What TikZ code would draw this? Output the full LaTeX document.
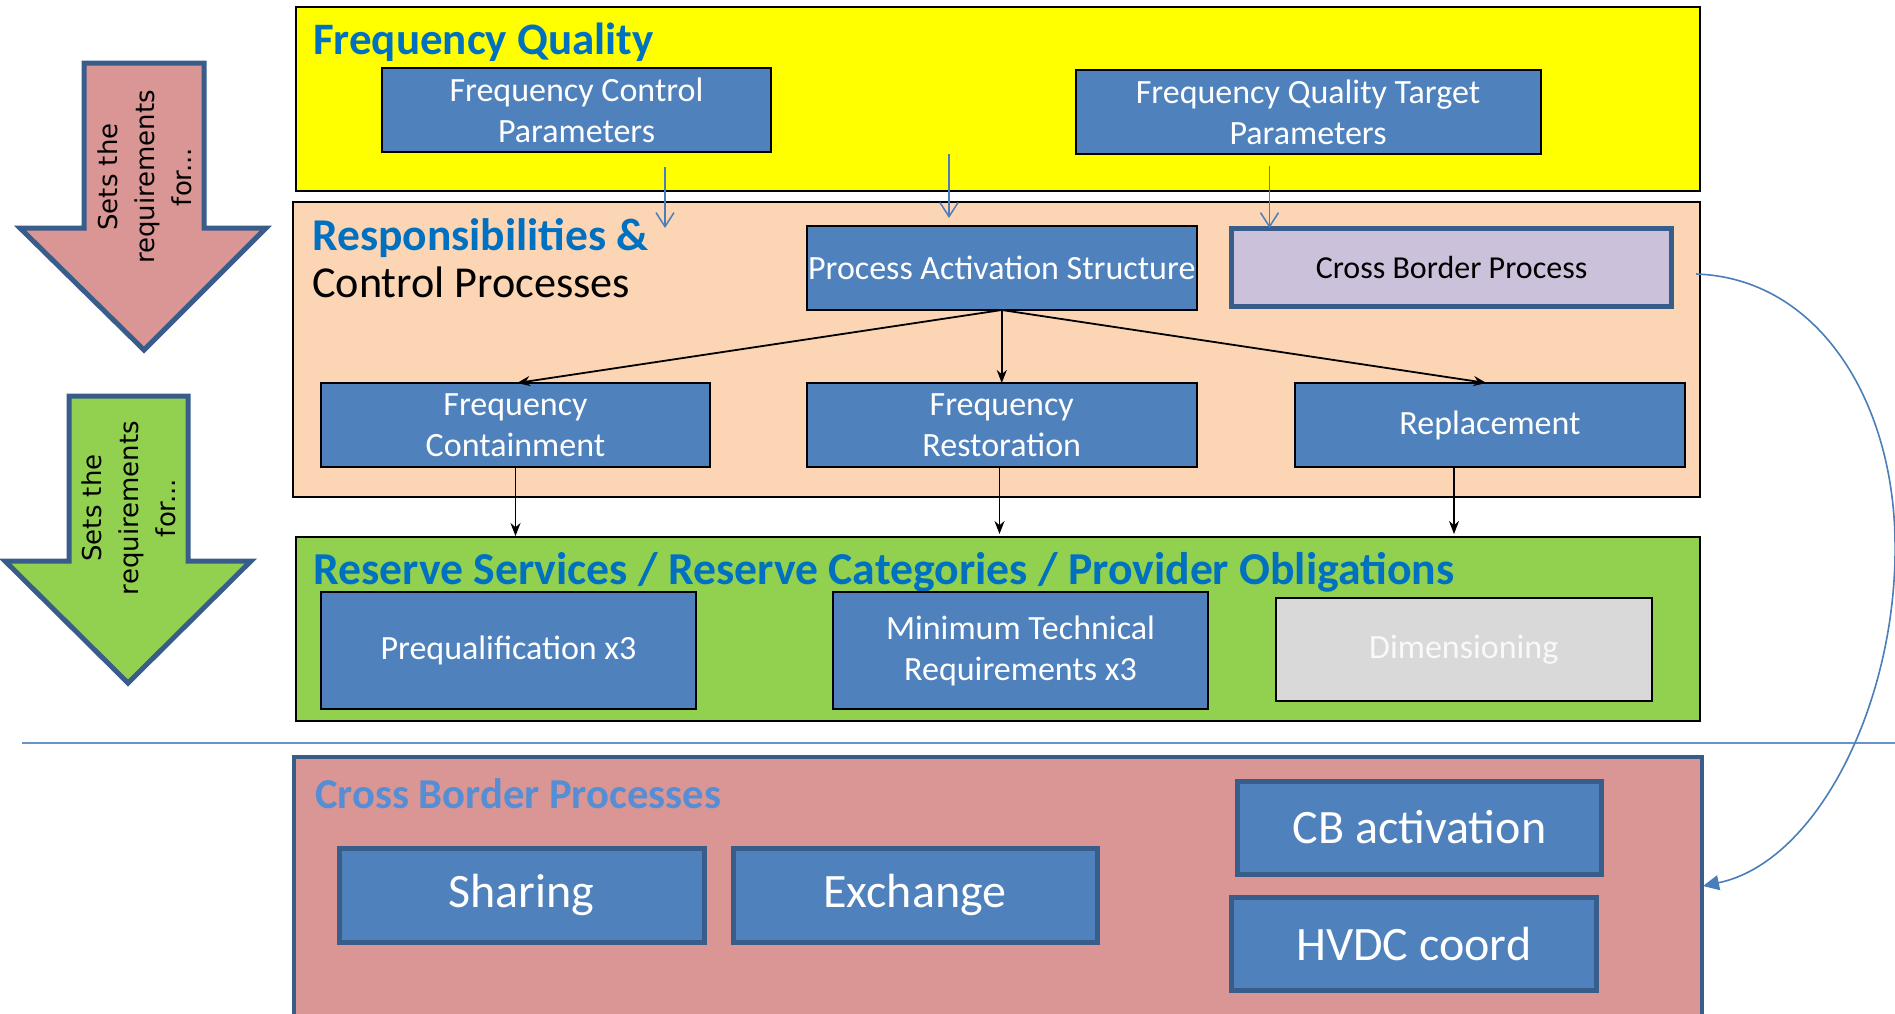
\documentclass[tikz,border=0pt]{standalone}
\usepackage{fontspec}
\setmainfont{Carlito}
\newfontfamily\arrowfont{DejaVu Sans}
\usetikzlibrary{arrows.meta}
\definecolor{yfill}{HTML}{FFFF00}
\definecolor{peach}{HTML}{FCD5B4}
\definecolor{gfill}{HTML}{92D050}
\definecolor{boxblue}{HTML}{4F81BD}
\definecolor{dkblue}{HTML}{385D8A}
\definecolor{lav}{HTML}{CCC1DA}
\definecolor{pinkf}{HTML}{D99694}
\definecolor{grayf}{HTML}{D9D9D9}
\definecolor{tblue}{HTML}{0070C0}
\definecolor{cbtitle}{HTML}{558ED5}
\definecolor{lblue}{HTML}{4A7EBB}
\begin{document}
\begin{tikzpicture}[x=1pt,y=-1pt,
  container/.style={draw=black,line width=2.5,inner sep=0,outer sep=0},
  pbox/.style={draw=black,line width=2,fill=boxblue,text=white,align=center,inner sep=0,outer sep=0,
    font=\fontsize{34}{41}\selectfont},
  cbbox/.style={draw=dkblue,line width=5,fill=boxblue,text=white,align=center,inner sep=0,outer sep=0,
    font=\fontsize{48}{56}\selectfont},
  title/.style={anchor=base west,inner sep=0,text=tblue,font=\fontsize{45}{50}\selectfont\bfseries},
  bluearrow/.style={draw=lblue,line width=1.5,-{Straight Barb[length=14,width=18]}},
  blackarrow/.style={draw=black,line width=1.8,-{Stealth[length=13,width=10]}},
  bigarrow/.style={draw=dkblue,line width=5,line join=miter},
  arrowtext/.style={rotate=90,align=center,inner sep=0,font=\arrowfont\fontsize{26}{37}\selectfont}
]
\clip (0,0) rectangle (1895,1013);

% left arrows
\draw[bigarrow,fill=pinkf] (84,63) -- (204,63) -- (204,228) -- (266,228) -- (144,350) -- (20,228) -- (84,228) -- cycle;
\node[arrowtext] (t1) at (145,177) {Sets the\\requirements\\for...};
\draw[bigarrow,fill=gfill] (69,396) -- (188,396) -- (188,561) -- (251,561) -- (128,683) -- (5,561) -- (69,561) -- cycle;
\node[arrowtext] (t2) at (129,508) {Sets the\\requirements\\for...};

% containers
\node[container,fill=yfill,minimum width=1404,minimum height=184] (fq) at (998,99) {};
\node[container,fill=peach,minimum width=1407,minimum height=295] (rc) at (996.5,349.5) {};
\node[container,fill=gfill,minimum width=1404,minimum height=184] (rs) at (998,629) {};
\node[draw=dkblue,line width=4,fill=pinkf,inner sep=0,minimum width=1407.5,minimum height=300] (cb) at (997.75,907) {};

% titles
\node[title] (fqt) at (313,54.5) {Frequency Quality};
\node[title,font=\fontsize{45.5}{50}\selectfont\bfseries] (rct) at (312,250.5) {Responsibilities \&};
\node[anchor=base west,inner sep=0,font=\fontsize{44.2}{50}\selectfont] (rct2) at (312,297) {Control Processes};
\node[title,font=\fontsize{45.7}{50}\selectfont\bfseries] (rst) at (313,584.5) {Reserve Services / Reserve Categories / Provider Obligations};
\node[title,text=cbtitle,font=\fontsize{42.6}{48}\selectfont\bfseries] (cbt) at (315,808.5) {Cross Border Processes};

% frequency quality boxes
\node[pbox,minimum width=389,minimum height=84] (fcp) at (576.5,110) {Frequency Control\\Parameters};
\node[pbox,minimum width=465,minimum height=84] (fqtp) at (1308,112) {Frequency Quality Target\\Parameters};

% responsibilities boxes
\node[pbox,minimum width=389.5,minimum height=84] (pas) at (1001.75,268) {Process Activation Structure};
\node[pbox,draw=dkblue,line width=5,fill=lav,text=black,font=\fontsize{32}{38}\selectfont,minimum width=440,minimum height=78] (cbp) at (1451.5,267) {Cross Border Process};
\node[pbox,minimum width=389,minimum height=84] (fc) at (515.5,425) {Frequency\\Containment};
\node[pbox,minimum width=389.5,minimum height=84] (fr) at (1001.75,425) {Frequency\\Restoration};
\node[pbox,minimum width=389.4,minimum height=84] (rp) at (1490,425) {Replacement};

% reserve boxes
\node[pbox,minimum width=375,minimum height=117] (pq) at (508.5,650.5) {Prequalification x3};
\node[pbox,minimum width=375,minimum height=117] (mtr) at (1020.5,650.5) {Minimum Technical\\Requirements x3};
\node[pbox,fill=grayf,text=white!95!gray,minimum width=375.5,minimum height=103] (dim) at (1463.75,649.5) {Dimensioning};

% cross border boxes
\node[cbbox,minimum width=365,minimum height=94] (sh) at (521.5,895) {Sharing};
\node[cbbox,minimum width=364,minimum height=94] (ex) at (915,895) {Exchange};
\node[cbbox,minimum width=364,minimum height=93] (cba) at (1419.5,827.5) {CB activation};
\node[cbbox,minimum width=364.5,minimum height=93] (hv) at (1413.75,943.5) {HVDC coord};

% blue arrows from frequency quality
\coordinate (b1s) at (665,167); \coordinate (b1e) at (665,228);
\coordinate (b2s) at (949,154); \coordinate (b2e) at (949,218);
\coordinate (b3s) at (1269.5,166); \coordinate (b3e) at (1269.5,228);
\draw[bluearrow] (b1s) -- (b1e);
\draw[bluearrow] (b2s) -- (b2e);
\draw[bluearrow] (b3s) -- (b3e);

% black arrows
\coordinate (fcin) at (517,383);
\coordinate (rpin) at (1486.5,383);
\draw[blackarrow] (pas.south) -- (fcin);
\draw[blackarrow] (pas.south) -- (fr.north);
\draw[blackarrow] (pas.south) -- (rpin);
\coordinate (fcout) at (515.5,467); \coordinate (fcend) at (515.5,536);
\coordinate (frout) at (999.5,467); \coordinate (frend) at (999.5,534);
\coordinate (rpout) at (1454,467); \coordinate (rpend) at (1454,534);
\draw[blackarrow] (fcout) -- (fcend);
\draw[blackarrow] (frout) -- (frend);
\draw[blackarrow] (rpout) -- (rpend);

% separator line
\coordinate (h1) at (22,743); \coordinate (h2) at (1895,743);
\draw[draw=boxblue!85!white,line width=1.8] (h1) -- (h2);

% curved arrow
\coordinate (cs) at (1696,274);
\coordinate (ce) at (1703,886);
\draw[draw=lblue,line width=1.6,-{Triangle[length=16,width=15]}] (cs) .. controls (1818,278) and (1893,400) .. (1895,540) .. controls (1898,700) and (1818,862) .. (ce);
\end{tikzpicture}
\end{document}
